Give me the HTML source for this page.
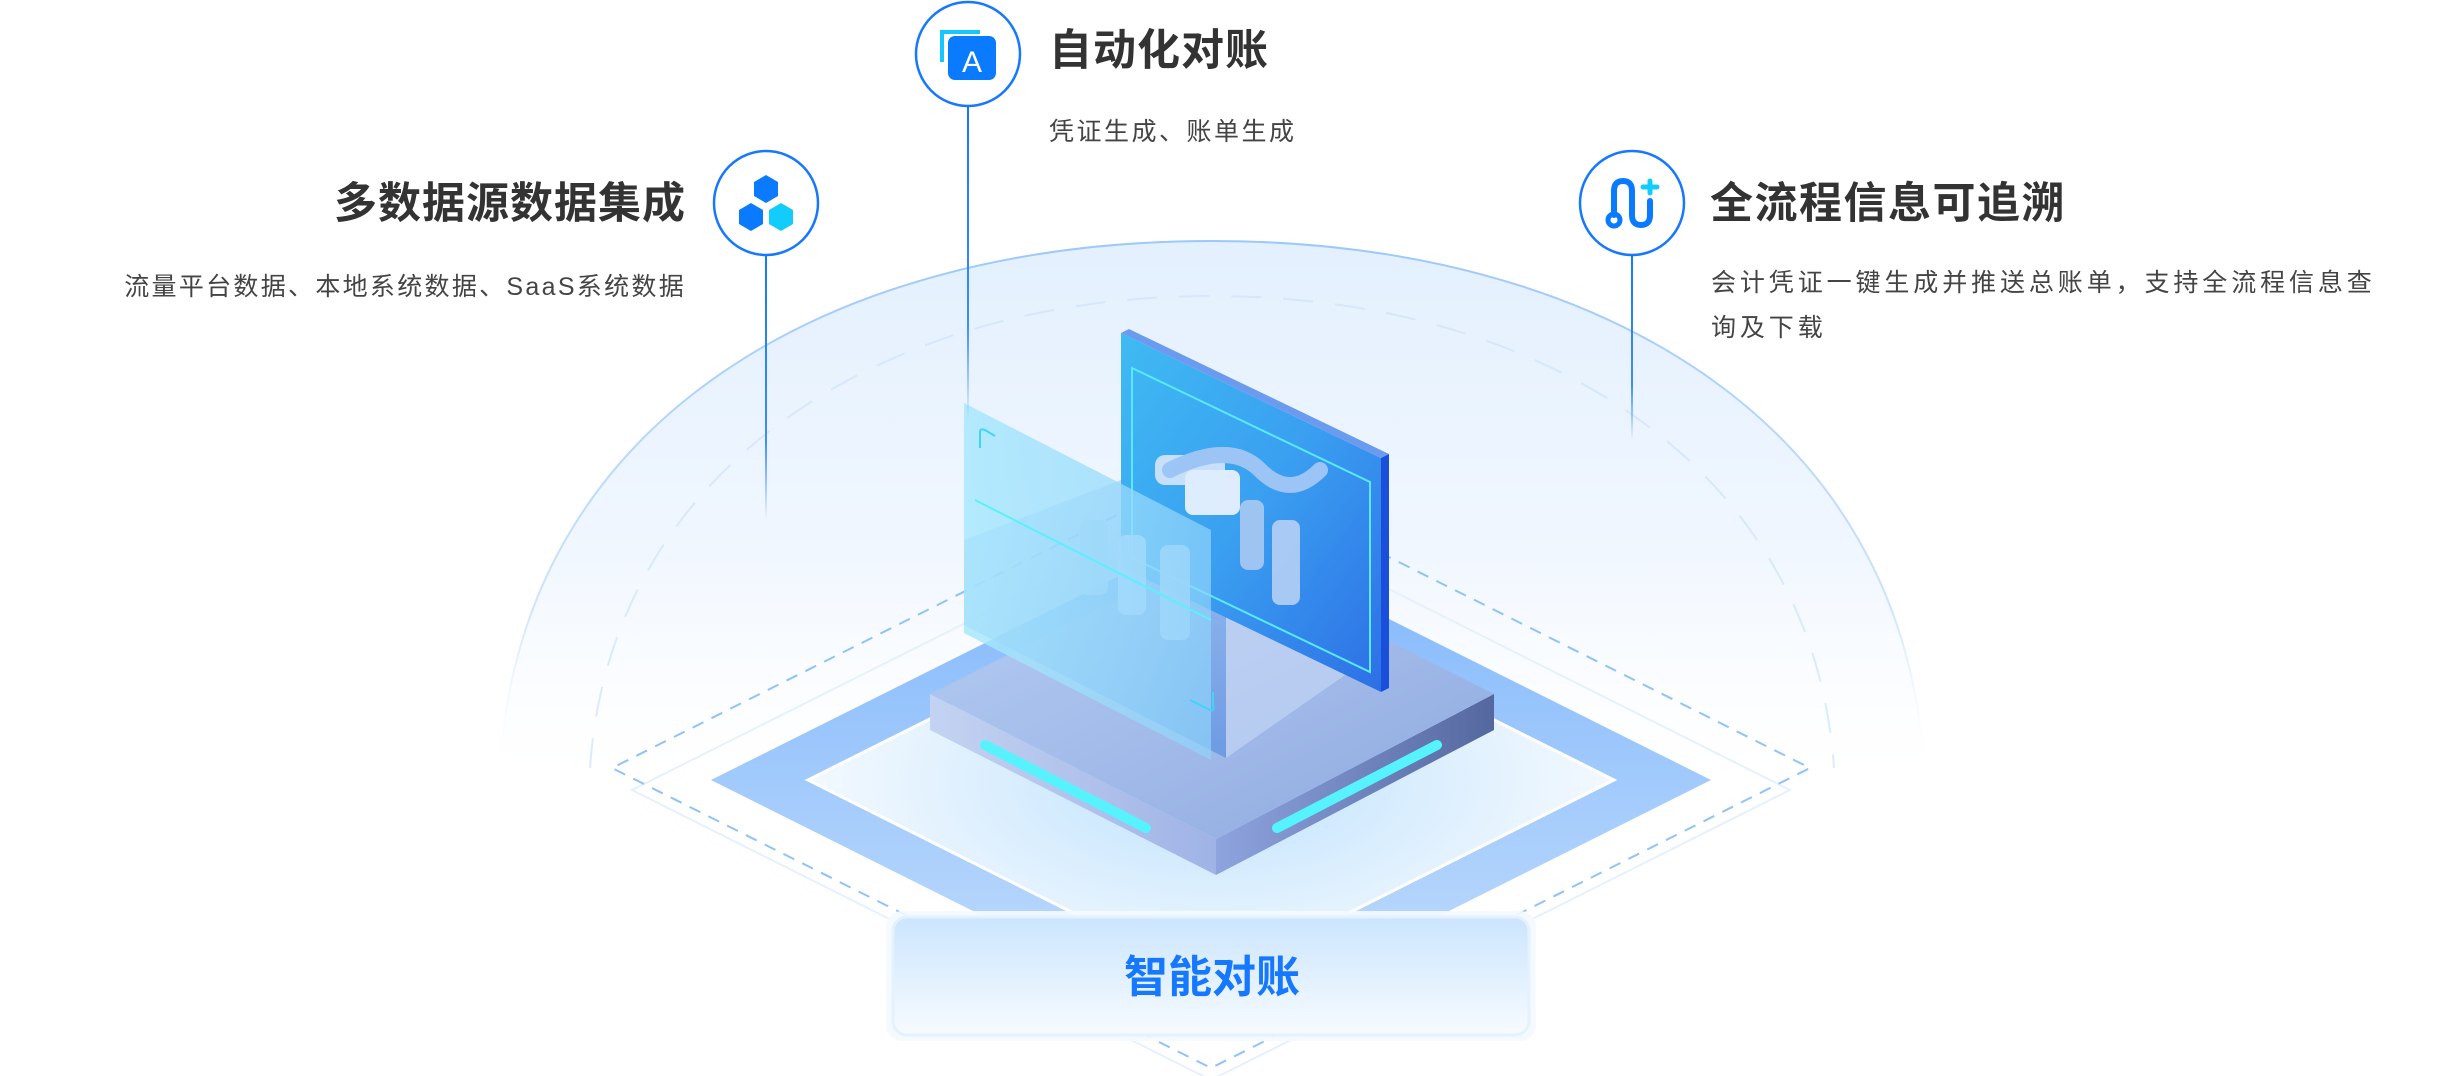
<!DOCTYPE html>
<html><head><meta charset="utf-8"><style>
html,body{margin:0;padding:0;background:#fff;}
svg{display:block;}
text{font-family:"Liberation Sans","Noto Sans CJK SC",sans-serif;}
</style></head><body>
<svg width="2440" height="1076" viewBox="0 0 2440 1076" xmlns="http://www.w3.org/2000/svg">
<defs>
<linearGradient id="dome" x1="0" y1="0" x2="0" y2="1">
<stop offset="0" stop-color="#e3f0fe"/><stop offset="0.6" stop-color="#f1f7ff"/><stop offset="1" stop-color="#ffffff" stop-opacity="0.6"/></linearGradient>
<linearGradient id="domeStroke" x1="0" y1="0" x2="0" y2="1">
<stop offset="0" stop-color="#9cc8fb"/><stop offset="0.7" stop-color="#cfe3fd"/><stop offset="1" stop-color="#fff" stop-opacity="0"/></linearGradient>
<linearGradient id="band" x1="0" y1="0" x2="0" y2="1">
<stop offset="0" stop-color="#7fb6fb"/><stop offset="1" stop-color="#c4defd"/></linearGradient>
<radialGradient id="floorGlow" cx="0.5" cy="0.5" r="0.5">
<stop offset="0" stop-color="#bfe2fd"/><stop offset="1" stop-color="#f3f9ff"/></radialGradient>
<linearGradient id="slabTop" x1="0" y1="0" x2="1" y2="1">
<stop offset="0" stop-color="#b6cef3"/><stop offset="1" stop-color="#8fa9e0"/></linearGradient>
<linearGradient id="slabL" x1="0" y1="0" x2="1" y2="0">
<stop offset="0" stop-color="#c4d3f2"/><stop offset="1" stop-color="#9fb3e6"/></linearGradient>
<linearGradient id="slabR" x1="0" y1="0" x2="1" y2="0">
<stop offset="0" stop-color="#8ea4de"/><stop offset="1" stop-color="#55679f"/></linearGradient>
<linearGradient id="backPanel" x1="0" y1="0" x2="1" y2="1">
<stop offset="0" stop-color="#3fbaf3"/><stop offset="0.5" stop-color="#3a9ff0"/><stop offset="1" stop-color="#2d6fe6"/></linearGradient>
<linearGradient id="glass" x1="0" y1="0" x2="1" y2="0">
<stop offset="0" stop-color="#a9e8fd" stop-opacity="0.85"/><stop offset="1" stop-color="#8fd3fb" stop-opacity="0.7"/></linearGradient>
<linearGradient id="cubeL" x1="0" y1="0" x2="0" y2="1">
<stop offset="0" stop-color="#7fb1f0" stop-opacity="0.5"/><stop offset="1" stop-color="#5b8fe0" stop-opacity="0.9"/></linearGradient>
<linearGradient id="btn" x1="0" y1="0" x2="0" y2="1">
<stop offset="0" stop-color="#cbe5fd"/><stop offset="1" stop-color="#f7fbff"/></linearGradient>
<linearGradient id="vl1" gradientUnits="userSpaceOnUse" x1="0" y1="107" x2="0" y2="420">
<stop offset="0" stop-color="#1677ff"/><stop offset="0.7" stop-color="#3d8dfb"/><stop offset="1" stop-color="#3d8dfb" stop-opacity="0"/></linearGradient>
<linearGradient id="vl2" gradientUnits="userSpaceOnUse" x1="0" y1="255" x2="0" y2="520">
<stop offset="0" stop-color="#1677ff"/><stop offset="0.7" stop-color="#3d8dfb"/><stop offset="1" stop-color="#3d8dfb" stop-opacity="0"/></linearGradient>
<linearGradient id="vl3" gradientUnits="userSpaceOnUse" x1="0" y1="255" x2="0" y2="440">
<stop offset="0" stop-color="#1677ff"/><stop offset="0.7" stop-color="#3d8dfb"/><stop offset="1" stop-color="#3d8dfb" stop-opacity="0"/></linearGradient>
</defs>

<!-- dome -->
<path d="M500 768 C 520 420 830 241 1212 241 C 1594 241 1904 420 1924 768 Z" fill="url(#dome)" stroke="url(#domeStroke)" stroke-width="2"/>
<path d="M590 768 C 610 470 880 296 1212 296 C 1544 296 1814 470 1834 768" fill="none" stroke="#cfe2fb" stroke-width="2" stroke-dasharray="30 22" opacity="0.7"/>

<polygon points="1211,500 1790,790 1211,1080 632,790" fill="none" stroke="#e6f1fd" stroke-width="2"/>
<polygon points="1211,468 1810,768 1211,1068 612,768" fill="none" stroke="#90c3f7" stroke-width="2" stroke-dasharray="12 9"/>
<polygon points="1211,530 1711,780 1211,1030 711,780" fill="url(#band)"/>
<polygon points="1211,578 1614,780 1211,982 808,780" fill="url(#floorGlow)"/>
<polygon points="1211,578 1614,780 1211,982 808,780" fill="none" stroke="#ffffff" stroke-width="3"/>

<polygon points="930,694 1216,839 1216,875 930,730" fill="url(#slabL)"/>
<polygon points="1216,839 1494,694 1494,730 1216,875" fill="url(#slabR)"/>
<polygon points="1212,552 1494,694 1216,839 930,694" fill="url(#slabTop)"/>
<line x1="985" y1="745" x2="1146" y2="828" stroke="#57f3fd" stroke-width="10" stroke-linecap="round"/>
<line x1="1437" y1="745" x2="1277" y2="828" stroke="#57f3fd" stroke-width="10" stroke-linecap="round"/>

<polygon points="1121,480 1226,540 1226,758 964,625 964,540" fill="url(#cubeL)" opacity="0.8"/>
<polygon points="1226,540 1381,460 1381,650 1226,758" fill="#c8d8f6" opacity="0.6"/>

<polygon points="1121,333 1381,458 1381,692 1121,567" fill="url(#backPanel)"/>
<polygon points="1121,333 1129,329 1389,454 1381,458" fill="#6b9bee"/>
<polygon points="1381,458 1389,454 1389,688 1381,692" fill="#1a4fdc"/>
<polygon points="1132,368 1370,482 1370,672 1132,558" fill="none" stroke="#59e9fd" stroke-width="2"/>

<g opacity="0.9">
<rect x="1155" y="455" width="70" height="30" rx="10" fill="#d7e6fb"/>
<rect x="1185" y="470" width="55" height="45" rx="8" fill="#f0f5ff"/>
<rect x="1080" y="520" width="28" height="75" rx="8" fill="#a9cdf5"/>
<rect x="1118" y="535" width="28" height="80" rx="8" fill="#bcdaf9"/>
<rect x="1160" y="545" width="30" height="95" rx="8" fill="#b5d6f8"/>
<rect x="1240" y="500" width="24" height="70" rx="8" fill="#a9c9f3"/>
<rect x="1272" y="520" width="28" height="85" rx="8" fill="#b6d0f6"/>
<path d="M1170 470 Q1230 440 1260 470 T1320 470" fill="none" stroke="#a7c9f6" stroke-width="16" stroke-linecap="round"/>
</g>

<polygon points="964,403 1211,530 1211,760 964,633" fill="url(#glass)"/>
<path d="M980,448 L980,432 Q980,428 985,430 L995,436" fill="none" stroke="#3fd6f5" stroke-width="2"/>
<line x1="975" y1="500" x2="1211" y2="620" stroke="#5bf0fd" stroke-width="2"/>
<path d="M1190,700 L1210,710 Q1215,712 1213,705 L1213,692" fill="none" stroke="#3fd6f5" stroke-width="2"/>

<!-- vertical connector lines -->
<rect x="967" y="107" width="2" height="313" fill="url(#vl1)"/>
<rect x="765" y="255" width="2" height="265" fill="url(#vl2)"/>
<rect x="1631" y="255" width="2" height="185" fill="url(#vl3)"/>

<circle cx="968" cy="54" r="52" fill="#fff" stroke="#1677ff" stroke-width="2.5"/>
<circle cx="766" cy="203" r="52" fill="#fff" stroke="#1677ff" stroke-width="2.5"/>
<circle cx="1632" cy="203" r="52" fill="#fff" stroke="#1677ff" stroke-width="2.5"/>

<path d="M942 62 L942 32 L980 32" fill="none" stroke="#14c8ff" stroke-width="4"/>
<rect x="948" y="36" width="48" height="44" rx="7" fill="#0a7aff"/>
<text x="972" y="72" text-anchor="middle" font-size="30" fill="#fff">A</text>

<g transform="translate(766,203)">
<polygon points="0,-28 12,-21 12,-7 0,0 -12,-7 -12,-21" fill="#0a7aff"/>
<polygon points="-15,0 -3,7 -3,21 -15,28 -27,21 -27,7" fill="#0a7aff"/>
<polygon points="15,0 27,7 27,21 15,28 3,21 3,7" fill="#12ccfc"/>
</g>

<g transform="translate(1632,203)" fill="none" stroke-linecap="round">
<path d="M-18 12 L-18 -12 Q-18 -22 -9 -22 Q0 -22 0 -12 L0 12 Q0 22 9 22 Q18 22 18 12 L18 -2" stroke="#0a7aff" stroke-width="6"/>
<circle cx="-18" cy="17" r="6" stroke="#0a7aff" stroke-width="5"/>
<path d="M18 -22 L18 -10 M11 -16 L25 -16" stroke="#12ccfc" stroke-width="5"/>
</g>

<text x="1049" y="65" font-size="43" font-weight="bold" fill="#333" letter-spacing="1">自动化对账</text>
<text x="1049" y="140" font-size="25" fill="#444" letter-spacing="2.5">凭证生成、账单生成</text>

<text x="686" y="218" font-size="43" font-weight="bold" fill="#333" text-anchor="end" letter-spacing="1">多数据源数据集成</text>
<text x="686" y="295" font-size="25" fill="#444" text-anchor="end" letter-spacing="2.3">流量平台数据、本地系统数据、SaaS系统数据</text>

<text x="1710" y="218" font-size="43" font-weight="bold" fill="#333" letter-spacing="1.5">全流程信息可追溯</text>
<text x="1711" y="291" font-size="25" fill="#444" letter-spacing="3.9">会计凭证一键生成并推送总账单，支持全流程信息查</text>
<text x="1711" y="336" font-size="25" fill="#444" letter-spacing="3.9">询及下载</text>

<rect x="886" y="911" width="650" height="130" rx="16" fill="#f4f9ff" opacity="0.9"/>
<rect x="893" y="917" width="636" height="118" rx="14" fill="url(#btn)" stroke="#e4f1fe" stroke-width="3"/>
<text x="1212" y="992" font-size="44" font-weight="bold" fill="#1677ff" text-anchor="middle">智能对账</text>
</svg>
</body></html>
